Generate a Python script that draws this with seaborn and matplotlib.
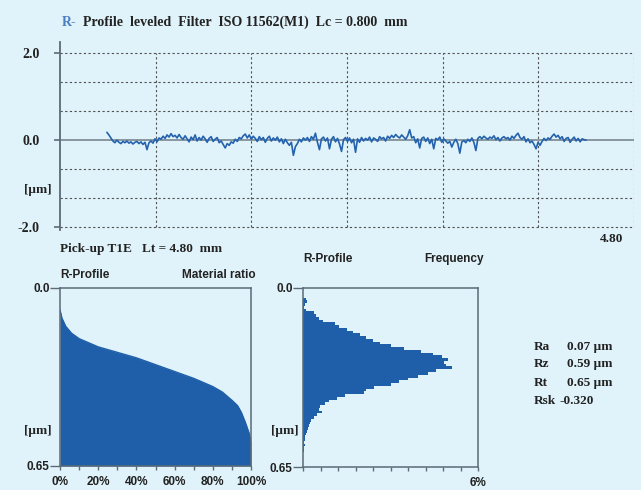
import numpy as np
import pandas as pd
import matplotlib
matplotlib.use("Agg")
import matplotlib.pyplot as plt
import seaborn as sns

# ---------------- data ----------------
profile_um = [
    0.18, 0.12, 0.05, -0.02, -0.06, 0.0, -0.05, -0.08, -0.03, -0.06,
    -0.02, -0.07, -0.04, -0.09, -0.05, -0.03, -0.08, -0.04, -0.10, -0.05,
    -0.22, -0.06, -0.02, -0.07, 0.03, -0.04, 0.05, 0.02, 0.09, 0.04,
    0.12, 0.07, 0.15, 0.08, 0.11, 0.05, 0.13, 0.06, 0.02, 0.10,
    0.03, -0.04, 0.07, 0.01, 0.12, -0.02, 0.06, 0.0, 0.09, 0.03,
    -0.05, 0.04, 0.08, -0.03, 0.02, 0.06, -0.06, -0.02, -0.10, -0.18,
    -0.08, -0.12, -0.04, -0.07, 0.02, -0.03, 0.06, 0.03, 0.10, 0.14,
    0.05, 0.12, 0.02, 0.09, 0.04, -0.03, 0.08, 0.01, 0.06, -0.05,
    0.04, 0.09, -0.02, 0.05, 0.0, 0.07, -0.04, 0.03, -0.08, 0.02,
    -0.06, -0.12, -0.05, -0.35, -0.15, -0.08, 0.02, -0.04, 0.05, 0.0,
    0.06, -0.03, 0.08, 0.02, 0.16, -0.05, -0.22, 0.03, 0.07, -0.02,
    0.05, -0.20, 0.02, 0.08, -0.04, 0.04, -0.09, -0.26, 0.01, 0.06,
    -0.03, 0.05, -0.06, 0.02, -0.28, 0.03, -0.05, 0.06, -0.02, 0.04,
    0.0, 0.07, -0.04, 0.05, 0.02, -0.03, 0.08, 0.03, 0.06, -0.02,
    0.09, 0.04, 0.11, 0.06, 0.13, 0.08, 0.05, 0.12, 0.07, 0.02,
    0.10, 0.24, 0.05, 0.08, -0.06, 0.03, -0.18, 0.04, 0.07, -0.03,
    0.05, -0.08, 0.02, -0.20, 0.04, 0.01, 0.07, -0.05, 0.03, -0.02,
    -0.07, -0.03, -0.16, -0.05, 0.02, -0.08, -0.30, -0.04, -0.01, -0.06,
    0.02, -0.03, 0.05, -0.05, -0.24, 0.04, 0.08, 0.03, 0.09, 0.05,
    0.02, 0.07, 0.04, 0.10, 0.01, 0.06, -0.02, 0.05, 0.08, 0.03,
    0.06, 0.0, 0.09, 0.04, 0.11, 0.16, 0.06, 0.02, 0.08, -0.04,
    0.03, -0.06, -0.02, -0.10, -0.20, -0.05, -0.12, -0.03, 0.04, -0.01,
    0.05, 0.02, 0.09, 0.14, 0.07, 0.11, 0.03, 0.08, -0.03, 0.04,
    0.06, -0.05, 0.02, 0.07, -0.02, 0.04, -0.04, 0.03, 0.01, 0.0,
]
profile_start, profile_end = 0.49, 5.50   # position on the 0..6 grid

ratio_pct = [0, 1, 3, 6, 10, 15, 20, 30, 40, 50, 60, 70, 80, 85, 90, 93, 95, 97, 99, 100]
ratio_depth = [0.08, 0.11, 0.14, 0.165, 0.185, 0.20, 0.215, 0.235, 0.255, 0.28,
               0.305, 0.33, 0.36, 0.38, 0.41, 0.43, 0.455, 0.49, 0.53, 0.56]

hist_depth = [0.04, 0.05, 0.06, 0.07, 0.08, 0.09, 0.10, 0.11, 0.12, 0.13,
              0.14, 0.15, 0.16, 0.17, 0.18, 0.19, 0.20, 0.21, 0.22, 0.23,
              0.24, 0.25, 0.26, 0.27, 0.28, 0.29, 0.30, 0.31, 0.32, 0.33,
              0.34, 0.35, 0.36, 0.37, 0.38, 0.39, 0.40, 0.41, 0.42, 0.43,
              0.44, 0.45, 0.46, 0.47, 0.48, 0.49, 0.50, 0.51, 0.52, 0.53,
              0.54, 0.55, 0.56, 0.57, 0.58, 0.59, 0.60]
hist_freq = [0.10, 0.15, 0.06, 0.05, 0.10, 0.38, 0.45, 0.55, 0.70, 1.10,
             1.25, 1.50, 1.70, 1.95, 2.15, 2.40, 2.65, 3.00, 3.45, 4.05,
             4.45, 4.75, 4.98, 4.82, 4.90, 5.10, 4.55, 4.30, 3.95, 3.60,
             3.30, 3.00, 2.45, 2.15, 2.10, 1.45, 1.15, 0.90, 0.75, 0.58,
             0.55, 0.65, 0.48, 0.38, 0.28, 0.25, 0.22, 0.16, 0.12, 0.10,
             0.07, 0.06, 0.05, 0.07, 0.05, 0.03, 0.0]

top_ticks = [2.0, 0.0, -2.0]
top_ticklabels = ["2.0", "0.0", "-2.0"]
ratio_ticklabels = ["0%", "", "20%", "", "40%", "", "60%", "", "80%", "", "100%"]
stat_names = ["Ra", "Rz", "Rt", "Rsk"]
stat_values = ["0.07 \u00b5m", "0.59 \u00b5m", "0.65 \u00b5m", "-0.320"]

# ---------------- style ----------------
sns.set_theme(style="white")
plt.rcParams["font.family"] = ["Liberation Serif", "DejaVu Sans"]

BG = "#e0f3fa"
BLUE = "#1f5ea8"
LINE = "#2562ad"
TXT = "#222222"
SPINE = "#5c6b76"
GRID = "#505050"
SANS = ["Liberation Sans", "DejaVu Sans"]
SERIF = ["Liberation Serif", "DejaVu Sans"]

W, H = 641, 490
fig = plt.figure(figsize=(W / 100, H / 100), dpi=100, facecolor=BG)


def rect(x0, y0, x1, y1):
    return [x0 / W, 1 - y1 / H, (x1 - x0) / W, (y1 - y0) / H]


def T(x, y, s, **kw):
    kw.setdefault("color", TXT)
    kw.setdefault("va", "center")
    fig.text(x / W, 1 - y / H, s, **kw)


# ---------------- top profile ----------------
ax1 = fig.add_axes(rect(60, 42, 634, 230))
ax1.set_facecolor(BG)
ax1.set_xlim(0, 6)
ax1.set_ylim(-2.07, 2.26)
for s in ["top", "right", "bottom"]:
    ax1.spines[s].set_visible(False)
ax1.spines["left"].set_color(SPINE)
ax1.spines["left"].set_linewidth(1.3)
dash = (0, (2.0, 2.2))
for yv in [-2, -4 / 3, -2 / 3, 2 / 3, 4 / 3, 2]:
    ax1.hlines(yv, 0, 6, colors=GRID, linestyles=dash, lw=0.8)
for xv in [1, 2, 3, 4, 5, 6]:
    ax1.vlines(xv, -2, 2, colors=GRID, linestyles=dash, lw=0.8)
ax1.axhline(0, color="#6f7d87", lw=1.1)
px = np.linspace(profile_start, profile_end, len(profile_um))
df = pd.DataFrame({"x": px, "z": profile_um})
sns.lineplot(data=df, x="x", y="z", ax=ax1, color=LINE, lw=1.2)
ax1.set_xlabel("")
ax1.set_ylabel("")
ax1.set_xticks([])
ax1.set_yticks(top_ticks)
ax1.set_yticklabels(top_ticklabels, fontsize=10, fontweight="bold", color=TXT, family=SERIF)
ax1.tick_params(axis="y", direction="out", length=4.5, width=1.2, color=SPINE, pad=10, left=True)

T(62, 22, "R-", fontsize=10, color="#4a7ec0", family=SERIF, fontweight="bold")
T(83, 22, "Profile  leveled  Filter  ISO 11562(M1)  Lc = 0.800  mm", fontsize=10,
  family=SERIF, fontweight="bold")
T(38, 190, "[\u00b5m]", fontsize=9.5, family=SERIF, fontweight="bold", ha="center")
T(612, 239, "4.80", fontsize=9.5, family=SERIF, fontweight="bold", ha="center")
T(60, 249, "Pick-up T1E   Lt = 4.80  mm", fontsize=9.5, family=SERIF, fontweight="bold")

# ---------------- material ratio ----------------
ax2 = fig.add_axes(rect(60, 288, 251, 466))
ax2.set_facecolor(BG)
ax2.fill_between(ratio_pct, ratio_depth, 0.65, color=BLUE, lw=0)
sns.lineplot(x=ratio_pct, y=ratio_depth, ax=ax2, color=BLUE, lw=1)
ax2.set_xlim(0, 100)
ax2.set_ylim(0.65, 0)
ax2.set_xticks(np.arange(0, 101, 10))
ax2.set_xticklabels(ratio_ticklabels, fontsize=8.5, fontweight="bold", color=TXT, family=SANS)
ax2.set_yticks([0.0, 0.65])
ax2.set_yticklabels(["0.0", "0.65"], fontsize=8.5, fontweight="bold", color=TXT, family=SANS)

# ---------------- histogram ----------------
ax3 = fig.add_axes(rect(303, 288, 478, 467))
ax3.set_facecolor(BG)
ax3.barh(hist_depth, hist_freq, height=0.0102, left=0, color=BLUE, lw=0)
ax3.set_xlim(0, 6)
ax3.set_ylim(0.65, 0)
ax3.set_xticks(np.linspace(0, 6, 11))
ax3.set_xticklabels([""] * 10 + ["6%"], fontsize=8.5, fontweight="bold", color=TXT, family=SANS)
ax3.set_yticks([0.0, 0.65])
ax3.set_yticklabels(["0.0", "0.65"], fontsize=8.5, fontweight="bold", color=TXT, family=SANS)

for ax in (ax2, ax3):
    ax.set_xlabel("")
    ax.set_ylabel("")
    for s in ax.spines.values():
        s.set_color(SPINE)
        s.set_linewidth(1.1)
    ax.tick_params(axis="x", direction="out", length=3, width=1, color=SPINE, pad=4, bottom=True)
    ax.tick_params(axis="y", direction="out", length=7, width=1, color=SPINE, pad=0.5, left=True)

T(60, 275, "R-Profile", fontsize=8.5, family=SANS, fontweight="bold")
T(256, 275, "Material ratio", fontsize=8.5, family=SANS, fontweight="bold", ha="right")
T(38, 431, "[\u00b5m]", fontsize=9.5, family=SERIF, fontweight="bold", ha="center")
T(303, 259, "R-Profile", fontsize=8.5, family=SANS, fontweight="bold")
T(484, 259, "Frequency", fontsize=8.5, family=SANS, fontweight="bold", ha="right")
T(285, 431, "[\u00b5m]", fontsize=9.5, family=SERIF, fontweight="bold", ha="center")

# ---------------- statistics ----------------
stat_y = [347, 364, 383, 401]
for name, val, yy in zip(stat_names, stat_values, stat_y):
    T(534, yy, name, fontsize=9.5, family=SERIF, fontweight="bold")
    T(559 if val.startswith("-") else 567, yy, val, fontsize=9.5, family=SERIF, fontweight="bold")

fig.savefig("out.png", dpi=100, facecolor=BG)
